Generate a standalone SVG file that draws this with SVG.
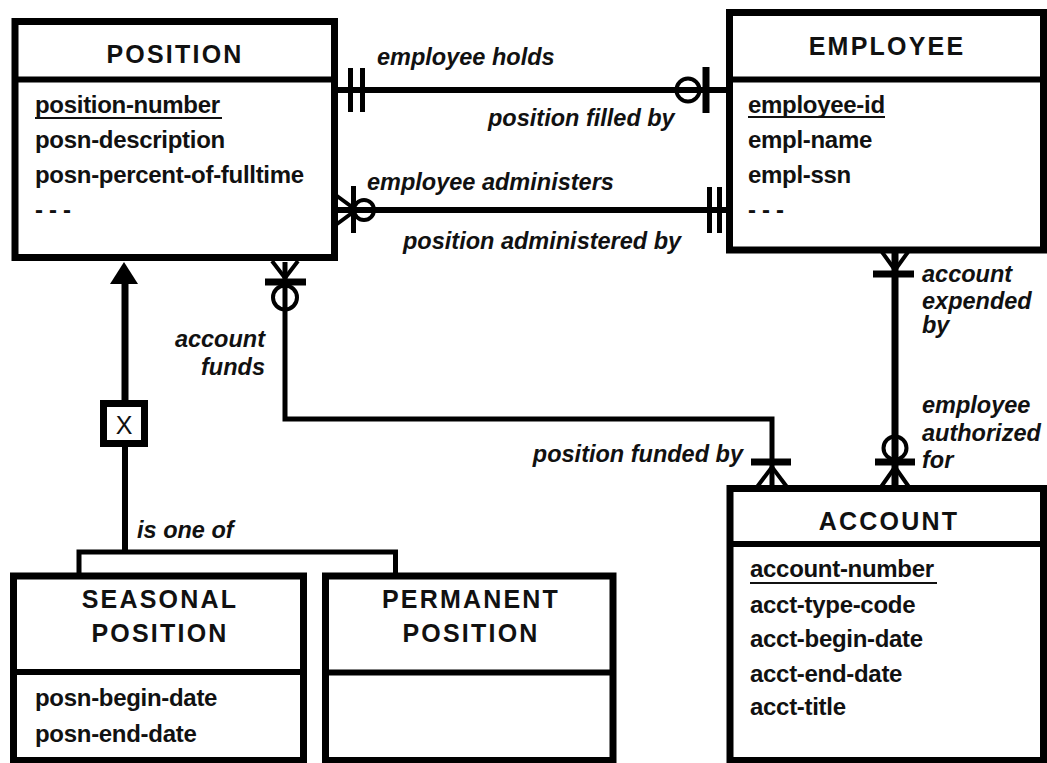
<svg xmlns="http://www.w3.org/2000/svg" width="1047" height="763" viewBox="0 0 1047 763">
<style>
.box{fill:#fff;stroke:#000;stroke-width:7}
.div{stroke:#000;stroke-width:6}
.hdr{font-family:"Liberation Sans",Arial,sans-serif;font-weight:bold;font-size:25px;letter-spacing:2.2px;text-anchor:middle;fill:#111}
.att{font-family:"Liberation Sans",Arial,sans-serif;font-weight:bold;font-size:24px;letter-spacing:-0.3px;fill:#111}
.lbl{font-family:"Liberation Sans",Arial,sans-serif;font-weight:bold;font-style:italic;font-size:23.5px;fill:#111}
.ul{stroke:#111;stroke-width:2}
.ln{fill:none;stroke:#000;stroke-width:6}
.thin{fill:none;stroke:#000;stroke-width:5}
.bar{stroke:#000;stroke-width:5}
.bar7{stroke:#000;stroke-width:7}
.crow{fill:none;stroke:#000;stroke-width:4}
.ring{fill:none;stroke:#000;stroke-width:4}
</style>

<g id="connectors">
  <!-- employee holds / position filled by -->
  <line class="ln" x1="338" y1="90" x2="727" y2="90"/>
  <line class="bar" x1="350.5" y1="68" x2="350.5" y2="112"/>
  <line class="bar" x1="362.5" y1="68" x2="362.5" y2="112"/>
  <circle class="ring" cx="688" cy="90" r="11.5"/>
  <line class="bar7" x1="706" y1="67" x2="706" y2="113"/>

  <!-- employee administers / position administered by -->
  <line class="ln" x1="338" y1="210" x2="727" y2="210"/>
  <polyline class="crow" points="337,196 356,210 337,224"/>
  <line class="bar" x1="353.5" y1="186" x2="353.5" y2="233"/>
  <circle class="ring" cx="364" cy="210" r="10"/>
  <line class="bar" x1="709.5" y1="187" x2="709.5" y2="233"/>
  <line class="bar" x1="719.5" y1="187" x2="719.5" y2="233"/>

  <!-- account funds / position funded by -->
  <polyline class="thin" points="285,262 285,419 772,419 772,486"/>
  <polyline class="crow" points="272,261 285,278 298,261"/>
  <line class="bar7" x1="265" y1="282" x2="306" y2="282"/>
  <circle class="ring" cx="285" cy="297.5" r="12"/>
  <line class="bar7" x1="751" y1="462" x2="791" y2="462"/>
  <polyline class="crow" points="757,487 772,467 787,487"/>

  <!-- account expended by / employee authorized for -->
  <line class="bar7" x1="895" y1="253" x2="895" y2="486"/>
  <polyline class="crow" points="882,252 895,270 908,252"/>
  <line class="bar7" x1="873" y1="274" x2="914" y2="274"/>
  <circle class="ring" cx="895" cy="448" r="11.5"/>
  <line class="bar7" x1="875" y1="462" x2="915" y2="462"/>
  <polyline class="crow" points="881,487 895,467 909,487"/>

  <!-- subtype -->
  <polygon points="124,262 110,284 138,284" fill="#000"/>
  <line class="bar7" x1="125" y1="283" x2="125" y2="401"/>
  <line class="ln" x1="125" y1="446" x2="125" y2="552"/>
  <polyline class="thin" points="79,574 79,552 395.5,552 395.5,574"/>
  <g id="exclusive">
    <rect x="103.5" y="403.5" width="41" height="40" fill="#fff" stroke="#000" stroke-width="7"/>
    <text x="124" y="434" font-family="'Liberation Sans',Arial,sans-serif" font-size="25" text-anchor="middle" fill="#111">X</text>
  </g>

  <!-- labels -->
  <text class="lbl" x="377" y="65">employee holds</text>
  <text class="lbl" x="488" y="126">position filled by</text>
  <text class="lbl" x="367" y="190">employee administers</text>
  <text class="lbl" x="403" y="249">position administered by</text>
  <text class="lbl" x="265" y="347" text-anchor="end">account</text>
  <text class="lbl" x="265" y="375" text-anchor="end">funds</text>
  <text class="lbl" x="743" y="462" text-anchor="end">position funded by</text>
  <text class="lbl" x="922" y="282">account</text>
  <text class="lbl" x="922" y="309">expended</text>
  <text class="lbl" x="922" y="333">by</text>
  <text class="lbl" x="922" y="413">employee</text>
  <text class="lbl" x="922" y="441">authorized</text>
  <text class="lbl" x="922" y="468">for</text>
  <text class="lbl" x="137" y="538">is one of</text>
</g>

<g id="position">
  <rect class="box" x="15" y="21.5" width="319.5" height="236"/>
  <line class="div" x1="15" y1="79.5" x2="334.5" y2="79.5"/>
  <text class="hdr" x="175" y="63">POSITION</text>
  <text class="att" x="35" y="113">position-number</text>
  <line class="ul" x1="35" y1="118" x2="222" y2="118"/>
  <text class="att" x="35" y="148">posn-description</text>
  <text class="att" x="35" y="183">posn-percent-of-fulltime</text>
  <text class="att" x="35" y="218">- - -</text>
</g>

<g id="employee">
  <rect class="box" x="729.5" y="12.5" width="314" height="237.5"/>
  <line class="div" x1="729.5" y1="79.5" x2="1043.5" y2="79.5"/>
  <text class="hdr" x="887" y="55">EMPLOYEE</text>
  <text class="att" x="748" y="113">employee-id</text>
  <line class="ul" x1="748" y1="117" x2="885" y2="117"/>
  <text class="att" x="748" y="148">empl-name</text>
  <text class="att" x="748" y="183">empl-ssn</text>
  <text class="att" x="748" y="218">- - -</text>
</g>

<g id="account">
  <rect class="box" x="730" y="488.5" width="313.5" height="272"/>
  <line class="div" x1="730" y1="544" x2="1043.5" y2="544"/>
  <text class="hdr" x="889" y="530">ACCOUNT</text>
  <text class="att" x="750" y="577">account-number</text>
  <line class="ul" x1="750" y1="583" x2="937" y2="583"/>
  <text class="att" x="750" y="613">acct-type-code</text>
  <text class="att" x="750" y="647">acct-begin-date</text>
  <text class="att" x="750" y="682">acct-end-date</text>
  <text class="att" x="750" y="715">acct-title</text>
</g>

<g id="seasonal-position">
  <rect class="box" x="13.5" y="576" width="290" height="184.5"/>
  <line class="div" x1="13.5" y1="672" x2="303.5" y2="672"/>
  <text class="hdr" x="160" y="608">SEASONAL</text>
  <text class="hdr" x="160" y="642">POSITION</text>
  <text class="att" x="35" y="706">posn-begin-date</text>
  <text class="att" x="35" y="742">posn-end-date</text>
</g>

<g id="permanent-position">
  <rect class="box" x="325.5" y="576" width="287.5" height="184.5"/>
  <line class="div" x1="325.5" y1="672.5" x2="613" y2="672.5"/>
  <text class="hdr" x="471" y="608">PERMANENT</text>
  <text class="hdr" x="471" y="642">POSITION</text>
</g>
</svg>
